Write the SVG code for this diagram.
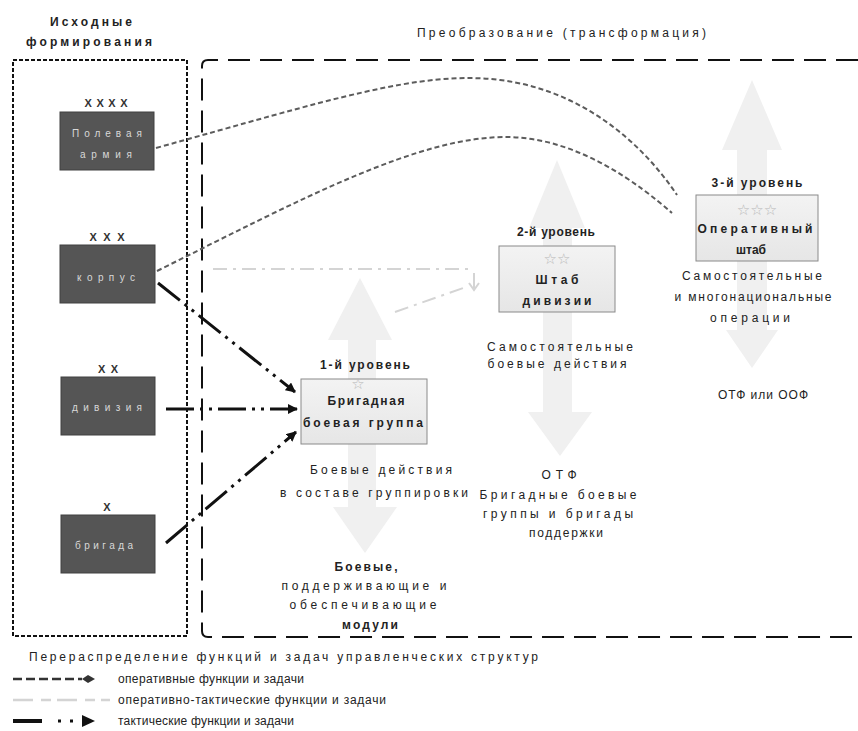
<svg xmlns="http://www.w3.org/2000/svg" width="858" height="731" viewBox="0 0 858 731">
<style>
.t{font-family:"Liberation Sans",Arial,sans-serif;font-size:12px;fill:#222}
.b{font-weight:bold}
.w{fill:#d8d8d8;font-size:10px}
.sym{font-weight:bold;font-size:11px;fill:#333}
.unit{fill:#555;stroke:#404040;stroke-width:1}
.lvl{fill:url(#lg);stroke:#8a8a8a;stroke-width:1}
.ga{fill:#f0f0f0}
.star{font-family:"DejaVu Sans",sans-serif;font-size:15px;fill:#b8b8b8}
.op{fill:none;stroke:#5c5c5c;stroke-width:2;stroke-dasharray:5 3}
.ot{fill:none;stroke:#d4d4d4;stroke-width:2;stroke-dasharray:14 6 3 6}
.tac{fill:none;stroke:#111;stroke-width:3;stroke-dasharray:28 6 3 6 3 6}
.frame{fill:none;stroke:#111;stroke-width:2}
</style>
<defs>
<linearGradient id="lg" x1="0" y1="0" x2="0" y2="1">
<stop offset="0" stop-color="#f3f3f3"/>
<stop offset="1" stop-color="#e6e6e6"/>
</linearGradient>
<marker id="ah" markerWidth="10" markerHeight="10" refX="9" refY="5" orient="auto" markerUnits="userSpaceOnUse">
<path d="M0,0 L10,5 L0,10 Z" fill="#111"/>
</marker>
</defs>

<!-- frames -->
<g id="frames">
<rect class="frame" x="13" y="60" width="174" height="576" stroke-dasharray="4 2"/>
<path class="frame" d="M858,60 H208 Q202,60 202,66 V631 Q202,637 208,637 H858" stroke-dasharray="22 10"/>
</g>

<!-- big light arrows -->
<g id="level-arrows">
<path class="ga" d="M752,80 L782,150 L767,150 L767,330 L778,330 L752,368 L726,330 L737,330 L737,150 L722,150 Z"/>
<path class="ga" d="M557,160 L585,228 L572,228 L572,412 L592,412 L560,456 L528,412 L543,412 L543,228 L529,228 Z"/>
<path class="ga" d="M360,278 L392,340 L376,340 L376,507 L397,507 L365,553 L333,507 L348,507 L348,340 L328,340 Z"/>
</g>

<!-- titles -->
<g id="titles">
<text class="t b" x="91" y="26" text-anchor="middle" textLength="82" lengthAdjust="spacing" font-size="11">Исходные</text>
<text class="t b" x="89" y="46" text-anchor="middle" textLength="126" lengthAdjust="spacing" font-size="11">формирования</text>
<text class="t" x="417" y="37" textLength="289" lengthAdjust="spacing">Преобразование (трансформация)</text>
</g>

<!-- connectors -->
<g id="connectors">
<path class="op" d="M156,148 C330,100 420,70 500,80 C580,90 640,140 677,195"/>
<path class="op" d="M157,271 C300,200 420,135 510,137 C580,139 640,185 672,213"/>
<path class="ot" d="M213,269 H474"/>
<path d="M474,273 V288 M469,283 L474,290 L479,283" fill="none" stroke="#d4d4d4" stroke-width="2"/>
<path class="ot" d="M395,312 L466,287"/>
<path class="tac" d="M158,283 L295,392" marker-end="url(#ah)"/>
<path class="tac" d="M166,409 L297,409" marker-end="url(#ah)"/>
<path class="tac" d="M166,543 L296,432" marker-end="url(#ah)"/>
</g>

<!-- original formations -->
<g id="field-army">
<text class="t sym" x="106" y="107" text-anchor="middle" textLength="43" lengthAdjust="spacing">XXXX</text>
<rect class="unit" x="60" y="112" width="94" height="58"/>
<text class="t w" x="107" y="137" text-anchor="middle" textLength="70" lengthAdjust="spacing">Полевая</text>
<text class="t w" x="106" y="158" text-anchor="middle" textLength="52" lengthAdjust="spacing">армия</text>
</g>
<g id="corps">
<text class="t sym" x="107" y="241" text-anchor="middle" textLength="35" lengthAdjust="spacing">XXX</text>
<rect class="unit" x="60" y="245" width="95" height="58"/>
<text class="t w" x="106" y="281" text-anchor="middle" textLength="58" lengthAdjust="spacing">корпус</text>
</g>
<g id="division">
<text class="t sym" x="108" y="373" text-anchor="middle" textLength="20" lengthAdjust="spacing">XX</text>
<rect class="unit" x="61" y="377" width="94" height="58"/>
<text class="t w" x="107" y="411" text-anchor="middle" textLength="70" lengthAdjust="spacing">дивизия</text>
</g>
<g id="brigade">
<text class="t sym" x="107" y="511" text-anchor="middle">X</text>
<rect class="unit" x="61" y="515" width="94" height="58"/>
<text class="t w" x="104" y="549" text-anchor="middle" textLength="58" lengthAdjust="spacing">бригада</text>
</g>

<!-- level 1 -->
<g id="level1">
<text class="t b" x="365" y="369" text-anchor="middle" textLength="90" lengthAdjust="spacing">1-й уровень</text>
<rect class="lvl" x="301" y="379" width="126" height="65"/>
<text class="star" x="358" y="389" text-anchor="middle" font-size="9">☆</text>
<text class="t b" x="366" y="405" text-anchor="middle" textLength="77" lengthAdjust="spacing">Бригадная</text>
<text class="t b" x="363" y="427" text-anchor="middle" textLength="120" lengthAdjust="spacing">боевая группа</text>
<text class="t" x="381" y="474" text-anchor="middle" textLength="142" lengthAdjust="spacing">Боевые действия</text>
<text class="t" x="374" y="497" text-anchor="middle" textLength="188" lengthAdjust="spacing">в составе группировки</text>
<text class="t b" x="366" y="571" text-anchor="middle" textLength="63" lengthAdjust="spacing">Боевые,</text>
<text class="t" x="364" y="590" text-anchor="middle" textLength="165" lengthAdjust="spacing">поддерживающие и</text>
<text class="t" x="363" y="609" text-anchor="middle" textLength="147" lengthAdjust="spacing">обеспечивающие</text>
<text class="t b" x="370" y="629" text-anchor="middle" textLength="56" lengthAdjust="spacing">модули</text>
</g>

<!-- level 2 -->
<g id="level2">
<text class="t b" x="556" y="236" text-anchor="middle" textLength="78" lengthAdjust="spacing">2-й уровень</text>
<rect class="lvl" x="499" y="246" width="116" height="66"/>
<text class="star" x="557" y="264" text-anchor="middle">☆☆</text>
<text class="t b" x="557" y="284" text-anchor="middle" font-size="14" textLength="43" lengthAdjust="spacing">Штаб</text>
<text class="t b" x="557" y="305" text-anchor="middle" textLength="69" lengthAdjust="spacing">дивизии</text>
<text class="t" x="560" y="351" text-anchor="middle" textLength="146" lengthAdjust="spacing">Самостоятельные</text>
<text class="t" x="557" y="368" text-anchor="middle" textLength="139" lengthAdjust="spacing">боевые действия</text>
<text class="t" x="559" y="479" text-anchor="middle" textLength="35" lengthAdjust="spacing">ОТФ</text>
<text class="t" x="558" y="499" text-anchor="middle" textLength="157" lengthAdjust="spacing">Бригадные боевые</text>
<text class="t" x="558" y="518" text-anchor="middle" textLength="150" lengthAdjust="spacing">группы и бригады</text>
<text class="t" x="566" y="537" text-anchor="middle" textLength="74" lengthAdjust="spacing">поддержки</text>
</g>

<!-- level 3 -->
<g id="level3">
<text class="t b" x="757" y="187" text-anchor="middle" textLength="91" lengthAdjust="spacing">3-й уровень</text>
<rect class="lvl" x="696" y="195" width="122" height="66"/>
<text class="star" x="757" y="215" text-anchor="middle">☆☆☆</text>
<text class="t b" x="755" y="233" text-anchor="middle" textLength="115" lengthAdjust="spacing">Оперативный</text>
<text class="t b" x="751" y="254" text-anchor="middle" textLength="30" lengthAdjust="spacing">штаб</text>
<text class="t" x="752" y="280" text-anchor="middle" textLength="140" lengthAdjust="spacing">Самостоятельные</text>
<text class="t" x="753" y="301" text-anchor="middle" textLength="157" lengthAdjust="spacing">и многонациональные</text>
<text class="t" x="750" y="322" text-anchor="middle" textLength="80" lengthAdjust="spacing">операции</text>
<text class="t" x="763" y="399" text-anchor="middle" textLength="90" lengthAdjust="spacing">ОТФ или ООФ</text>
</g>

<!-- legend -->
<g id="legend">
<text class="t" x="29" y="661" font-size="11" textLength="509" lengthAdjust="spacing">Перераспределение функций и задач управленческих структур</text>
<path d="M13,679 H82" fill="none" stroke="#333" stroke-width="2.5" stroke-dasharray="9 4"/>
<polygon points="82,679 88,675 95,679 88,683" fill="#333"/>
<text class="t" x="118" y="683" font-size="11" textLength="186" lengthAdjust="spacing">оперативные функции и задачи</text>
<path d="M13,700 H110" fill="none" stroke="#d4d4d4" stroke-width="2.5" stroke-dasharray="20 8 10 6"/>
<text class="t" x="118" y="704" font-size="11" textLength="268" lengthAdjust="spacing">оперативно-тактические функции и задачи</text>
<path d="M13,721 H42" fill="none" stroke="#111" stroke-width="4"/>
<rect x="58" y="719.5" width="3" height="3" fill="#111"/>
<rect x="70" y="719.5" width="3" height="3" fill="#111"/>
<polygon points="82,715 95,721 82,727" fill="#111"/>
<text class="t" x="118" y="725" font-size="11" textLength="176" lengthAdjust="spacing">тактические функции и задачи</text>
</g>
</svg>
